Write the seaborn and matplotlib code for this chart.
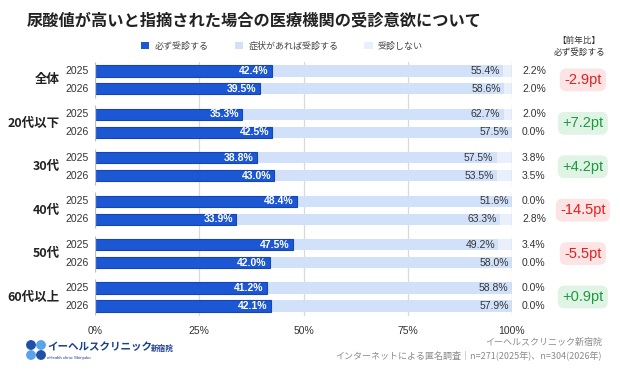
import numpy as np
import pandas as pd
import matplotlib
matplotlib.use("Agg")
import matplotlib.pyplot as plt
import seaborn as sns
from matplotlib.patches import Patch, Circle

groups = ["全体", "20代以下", "30代", "40代", "50代", "60代以上"]
years = ["2025", "2026"]
must = [42.4, 39.5, 35.3, 42.5, 38.8, 43.0, 48.4, 33.9, 47.5, 42.0, 41.2, 42.1]
ifsym = [55.4, 58.6, 62.7, 57.5, 57.5, 53.5, 51.6, 63.3, 49.2, 58.0, 58.8, 57.9]
nonev = [2.2, 2.0, 2.0, 0.0, 3.8, 3.5, 0.0, 2.8, 3.4, 0.0, 0.0, 0.0]
diffs = ["-2.9pt", "+7.2pt", "+4.2pt", "-14.5pt", "-5.5pt", "+0.9pt"]
legend_labels = ["必ず受診する", "症状があれば受診する", "受診しない"]
xticks = [0, 25, 50, 75, 100]

sns.set_theme(style="white")
plt.rcParams['font.family'] = ['Liberation Sans', 'Noto Sans CJK JP', 'DejaVu Sans']
JP = ['Noto Sans CJK JP', 'Liberation Sans', 'DejaVu Sans']

C1 = "#1c57d4"
C1E = "#1746b4"
C2 = "#d2e1fa"
C3 = "#e9f0fc"

GAP = 2.42
rows = []
for gi, g in enumerate(groups):
    for yi, yr in enumerate(years):
        i = gi * 2 + yi
        rows.append(dict(pos=gi * GAP + yi, must=must[i],
                         cum2=must[i] + ifsym[i],
                         tot=must[i] + ifsym[i] + nonev[i]))
df = pd.DataFrame(rows)

fig = plt.figure(figsize=(6.2, 3.7), dpi=100)
ax = fig.add_axes([95 / 620, 1 - 316 / 370, 417 / 620, 254 / 370])

common = dict(y="pos", orient="h", native_scale=True, width=0.62, ax=ax)
sns.barplot(data=df, x="tot", color=C3, saturation=1, linewidth=0, **common)
sns.barplot(data=df, x="cum2", color=C2, saturation=1, linewidth=0, **common)
sns.barplot(data=df, x="must", color=C1, saturation=1, linewidth=0.8,
            edgecolor=C1E, **common)

ax.set_xlim(0, 100)
ax.set_ylim(13.1 + 0.56, -0.5)
ax.set_xlabel("")
ax.set_ylabel("")
ax.set_yticks([])
ax.set_xticks(xticks)
ax.set_xticklabels([f"{t}%" for t in xticks], fontsize=7.5, color="#333333")
ax.tick_params(axis="x", length=0, pad=7)
for s in ax.spines.values():
    s.set_visible(False)
for t in [25, 50, 75]:
    ax.axvline(t, color="#d9d9d9", lw=0.9, zorder=0)
for gi in range(len(groups)):
    y0 = gi * GAP - 0.5
    y1 = gi * GAP + 1.5
    ax.vlines([0, 100], y0, y1, color="#bdbdbd", lw=0.9, zorder=5)

for i, r in df.iterrows():
    ax.text(r["must"] - 0.8, r["pos"], f"{must[i]:.1f}%", ha="right", va="center",
            color="white", fontsize=7.5, fontweight="bold", zorder=6)
    ax.text(r["cum2"] - 0.8, r["pos"], f"{ifsym[i]:.1f}%", ha="right", va="center",
            color="#333333", fontsize=7.5, zorder=6)
    ax.text(102.4, r["pos"], f"{nonev[i]:.1f}%", ha="left", va="center",
            color="#333333", fontsize=7.5, clip_on=False)
    ax.text(-1.5, r["pos"], years[i % 2], ha="right", va="center",
            color="#333333", fontsize=7.5, clip_on=False)

for gi, g in enumerate(groups):
    yc = gi * GAP + 0.5
    ax.text(-8.4, yc, g, ha="right", va="center", color="#222222",
            fontsize=9, fontweight="bold", clip_on=False, family=JP)
    d = diffs[gi]
    neg = d.startswith("-")
    fc = "#fde4e4" if neg else "#e0f4e6"
    tc = "#e0201f" if neg else "#1e9a3e"
    ax.text(117.0, yc, d, ha="center", va="center", color=tc, fontsize=10.5,
            clip_on=False,
            bbox=dict(boxstyle="round,pad=0.3,rounding_size=0.45", fc=fc, ec="none"))

fig.text(27 / 620, 1 - 20 / 370, "尿酸値が高いと指摘された場合の医療機関の受診意欲について",
         fontsize=11.7, fontweight="bold", color="#222222", ha="left", va="center",
         family=JP)

handles = [Patch(facecolor=c, edgecolor="none") for c in [C1, C2, C3]]
leg = fig.legend(handles, legend_labels, loc="center", bbox_to_anchor=(282 / 620, 1 - 46 / 370),
                 ncol=3, frameon=False, handlelength=0.9, handleheight=0.9,
                 handletextpad=0.6, columnspacing=2.9, labelcolor="#444444",
                 prop={'family': JP, 'size': 6.5})

fig.text(579 / 620, 1 - 40 / 370, "【前年比】", fontsize=6.2, color="#333333",
         ha="center", va="center", family=JP)
fig.text(580 / 620, 1 - 52 / 370, "必ず受診する", fontsize=6.2, color="#333333",
         ha="center", va="center", family=JP)

fig.text(602 / 620, 1 - 342 / 370, "イーヘルスクリニック新宿院", fontsize=6.5,
         color="#8a8a8a", ha="right", va="center", family=JP)
fig.text(602 / 620, 1 - 355 / 370,
         "インターネットによる匿名調査｜n=271(2025年)、n=304(2026年)",
         fontsize=6.5, color="#8a8a8a", ha="right", va="center", family=JP)

# logo
lax = fig.add_axes([0, 0, 1, 1], facecolor="none")
lax.set_xlim(0, 620)
lax.set_ylim(370, 0)
lax.axis("off")
for (cx, cy, c) in [(31, 345, "#1f4fa8"), (41, 345, "#5aa2ea"),
                    (31, 355, "#5aa2ea"), (41, 355, "#1f4fa8")]:
    lax.add_patch(Circle((cx, cy), 4.2, color=c))
lax.text(47, 347, "イーヘルスクリニック", fontsize=7.6, fontweight="bold",
         color="#1d3f8f", ha="left", va="center", family=JP)
lax.text(151, 348, "新宿院", fontsize=5.5, fontweight="bold", color="#1d3f8f",
         ha="left", va="center", family=JP)
lax.text(47, 358, "eHealth clinic Shinjuku", fontsize=3.2, color="#1d3f8f",
         ha="left", va="center")

fig.savefig("out.png", dpi=100, facecolor="white")
